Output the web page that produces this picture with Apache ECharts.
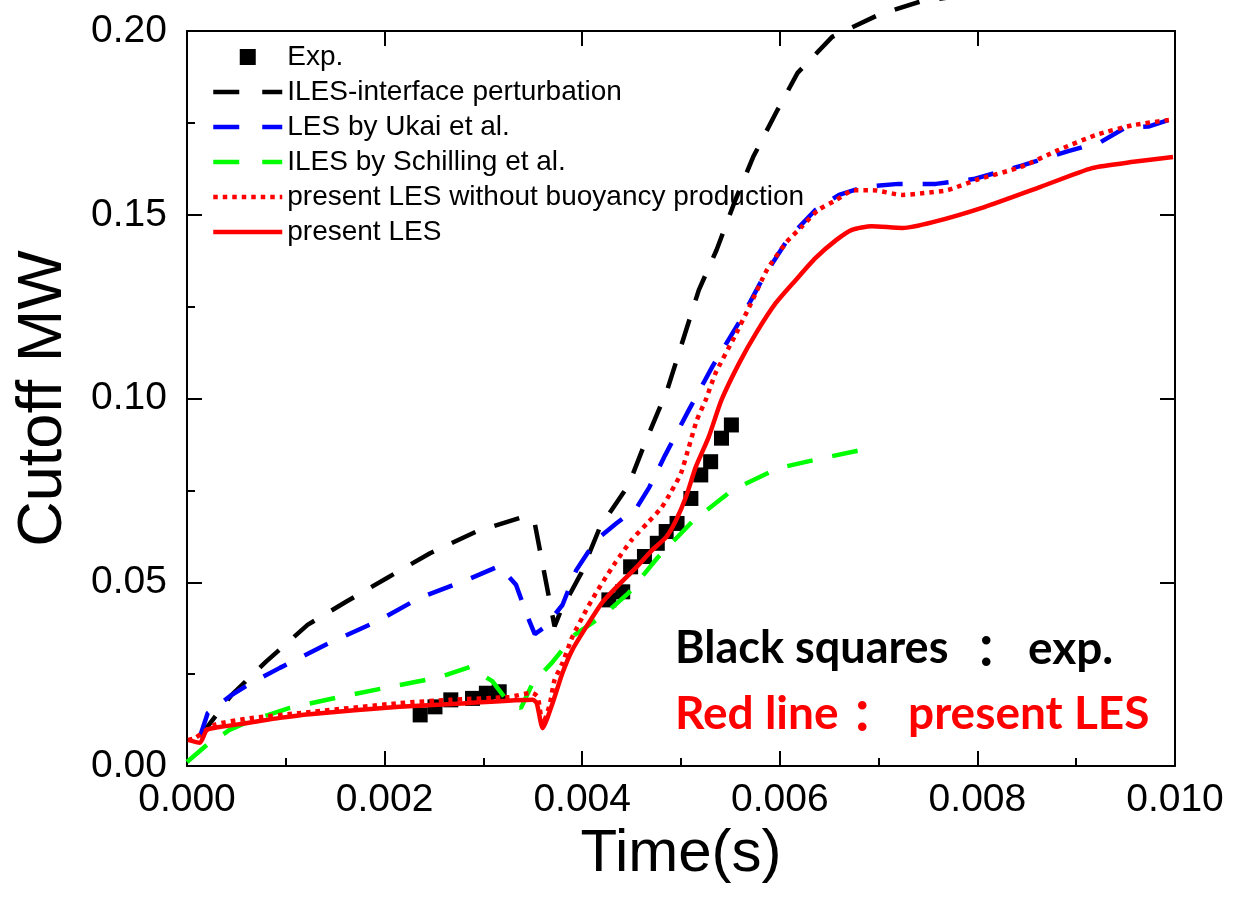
<!DOCTYPE html>
<html>
<head>
<meta charset="utf-8">
<script src="https://cdn.jsdelivr.net/npm/echarts@6/dist/echarts.min.js"></script>
<style>
  html, body { margin: 0; padding: 0; background: #fff; }
  #main { width: 1238px; height: 909px; }
</style>
</head>
<body>
<div id="main"></div>
<script>
// experiment (black squares)
const expData = [
  [0.00236, 0.0139], [0.00251, 0.0161], [0.00267, 0.0180], [0.00289, 0.0184],
  [0.00303, 0.0198], [0.00316, 0.0202],
  [0.00427, 0.0452], [0.00441, 0.0474], [0.00449, 0.0542], [0.00463, 0.0570],
  [0.00476, 0.0606], [0.00485, 0.0638], [0.00496, 0.0660], [0.00510, 0.0728],
  [0.00520, 0.0792], [0.00530, 0.0828], [0.00541, 0.0892], [0.00551, 0.0928]
];

// ILES-interface perturbation
const ilesInterface = [
  [0.00013, 0.0079], [0.00045, 0.0193], [0.00080, 0.0284], [0.00122, 0.0384],
  [0.00161, 0.0447], [0.00202, 0.0511], [0.00246, 0.0579], [0.00293, 0.0638],
  [0.00343, 0.0680], [0.00352, 0.0660], [0.00372, 0.0380], [0.00378, 0.0420],
  [0.00399, 0.0525], [0.00418, 0.0650], [0.00447, 0.0765], [0.00464, 0.0882],
  [0.00486, 0.1023], [0.00518, 0.1295], [0.00536, 0.1404], [0.00555, 0.1540],
  [0.00573, 0.1657], [0.00596, 0.1777], [0.00618, 0.1886], [0.00653, 0.1984],
  [0.00700, 0.2044], [0.00742, 0.2080], [0.00780, 0.2095]
];

// LES by Ukai et al.
const lesUkai = [
  [0.00013, 0.0079], [0.00021, 0.0144], [0.00045, 0.0193], [0.00065, 0.0226],
  [0.00094, 0.0267], [0.00144, 0.0335], [0.00192, 0.0393], [0.00235, 0.0457],
  [0.00283, 0.0506], [0.00316, 0.0544], [0.00333, 0.0493], [0.00344, 0.0411],
  [0.00352, 0.0359], [0.00362, 0.0378], [0.00380, 0.0438], [0.00394, 0.0533],
  [0.00414, 0.0615], [0.00435, 0.0661], [0.00455, 0.0702], [0.00468, 0.0759],
  [0.00484, 0.0846], [0.00508, 0.0969], [0.00532, 0.1088], [0.00559, 0.1208],
  [0.00583, 0.1328], [0.00609, 0.1437], [0.00636, 0.1513], [0.00660, 0.1554],
  [0.00686, 0.1576], [0.00720, 0.1584], [0.00758, 0.1584], [0.00796, 0.1597],
  [0.00844, 0.1633], [0.00892, 0.1673], [0.00925, 0.1698], [0.00949, 0.1736],
  [0.00973, 0.1740], [0.00997, 0.1761]
];

// ILES by Schilling et al.
const ilesSchilling = [
  [0.00000, 0.0011], [0.00020, 0.0057], [0.00043, 0.0098], [0.00066, 0.0125],
  [0.00104, 0.0158], [0.00155, 0.0188], [0.00205, 0.0215], [0.00256, 0.0242],
  [0.00286, 0.0269], [0.00309, 0.0231], [0.00326, 0.0171], [0.00338, 0.0158],
  [0.00350, 0.0226], [0.00369, 0.0280], [0.00392, 0.0356], [0.00422, 0.0411],
  [0.00447, 0.0471], [0.00476, 0.0566], [0.00511, 0.0664], [0.00552, 0.0751],
  [0.00599, 0.0811], [0.00649, 0.0841], [0.00697, 0.0868]
];

// present LES without buoyancy production
const lesNoBuoy = [
  [0.00001, 0.0071], [0.00008, 0.0076], [0.00028, 0.0112], [0.00064, 0.0130],
  [0.00114, 0.0144], [0.00215, 0.0171], [0.00266, 0.0180], [0.00326, 0.0188],
  [0.00349, 0.0199], [0.00355, 0.0188], [0.00360, 0.0114], [0.00367, 0.0166],
  [0.00372, 0.0234], [0.00380, 0.0280], [0.00390, 0.0351], [0.00404, 0.0424],
  [0.00414, 0.0471], [0.00424, 0.0514], [0.00434, 0.0555], [0.00450, 0.0615],
  [0.00466, 0.0661], [0.00480, 0.0702], [0.00490, 0.0746], [0.00500, 0.0797],
  [0.00508, 0.0868], [0.00516, 0.0941], [0.00525, 0.0996], [0.00535, 0.1069],
  [0.00554, 0.1167], [0.00571, 0.1260], [0.00587, 0.1350], [0.00607, 0.1426],
  [0.00622, 0.1467], [0.00639, 0.1513], [0.00657, 0.1540], [0.00675, 0.1567],
  [0.00694, 0.1567], [0.00724, 0.1554], [0.00746, 0.1559], [0.00770, 0.1567],
  [0.00799, 0.1595], [0.00844, 0.1630], [0.00882, 0.1676], [0.00920, 0.1717],
  [0.00958, 0.1744], [0.00995, 0.1758]
];

// present LES
const lesPresent = [
  [0.00001, 0.0071], [0.00013, 0.0063], [0.00020, 0.0098], [0.00033, 0.0106],
  [0.00061, 0.0117], [0.00094, 0.0131], [0.00124, 0.0141], [0.00215, 0.0161],
  [0.00283, 0.0171], [0.00350, 0.0180], [0.00354, 0.0171], [0.00360, 0.0103],
  [0.00370, 0.0171], [0.00380, 0.0253], [0.00390, 0.0316], [0.00404, 0.0378],
  [0.00420, 0.0444], [0.00437, 0.0493], [0.00455, 0.0541], [0.00471, 0.0588],
  [0.00485, 0.0623], [0.00495, 0.0669], [0.00505, 0.0732], [0.00515, 0.0814],
  [0.00528, 0.0895], [0.00541, 0.0996], [0.00559, 0.1097], [0.00576, 0.1178],
  [0.00596, 0.1260], [0.00616, 0.1322], [0.00636, 0.1382], [0.00657, 0.1431],
  [0.00673, 0.1459], [0.00693, 0.1469], [0.00724, 0.1464], [0.00755, 0.1480],
  [0.00807, 0.1521], [0.00864, 0.1576], [0.00916, 0.1627], [0.00958, 0.1644],
  [0.00998, 0.1657]
];

const seriesNames = [
  'Exp.',
  'ILES-interface perturbation',
  'LES by Ukai et al.',
  'ILES by Schilling et al.',
  'present LES without buoyancy production',
  'present LES'
];

const BLACK = '#000000', BLUE = '#0000ff', GREEN = '#00ff00', RED = '#ff0000';
const DASH = [26, 20], DOT = [4.5, 5];
const font = '"Liberation Sans", Arial, sans-serif';
const chart = echarts.init(document.getElementById('main'));

const dashLine = (name, data, color, extra) => Object.assign({
  name: name,
  type: 'line',
  data: data,
  symbol: 'none',
  showSymbol: false,
  lineStyle: { color: color, width: 4.5, type: DASH, cap: 'butt' },
  itemStyle: { color: color }
}, extra || {});

const legendLine = (name, color, type) => ({
  name: name,
  itemStyle: { opacity: 0 },
  lineStyle: { color: color, width: 4.5, type: type, cap: 'butt' }
});

chart.setOption({
  animation: false,
  backgroundColor: '#fff',
  grid: { left: 187, right: 63, top: 31, bottom: 143 },
  legend: {
    orient: 'vertical',
    left: 211,
    top: 43,
    itemWidth: 69,
    itemHeight: 16,
    itemGap: 7,
    padding: 0,
    symbolKeepAspect: true,
    textStyle: { fontFamily: font, fontSize: 28, color: '#000' },
    data: [
      { name: seriesNames[0], icon: 'path://M0,0L10,0L10,10L0,10Z' },
      legendLine(seriesNames[1], BLACK, [26, 23]),
      legendLine(seriesNames[2], BLUE, [26, 23]),
      legendLine(seriesNames[3], GREEN, [26, 23]),
      legendLine(seriesNames[4], RED, DOT),
      legendLine(seriesNames[5], RED, 'solid')
    ]
  },
  xAxis: [{
    type: 'value',
    min: 0, max: 0.01, interval: 0.002,
    name: 'Time(s)',
    nameLocation: 'middle',
    nameGap: 58,
    nameTextStyle: { fontFamily: font, fontSize: 60, color: '#000' },
    axisLine: { onZero: false, lineStyle: { color: '#000', width: 2 } },
    axisTick: { inside: true, length: 15, lineStyle: { color: '#000', width: 2 } },
    minorTick: { show: true, splitNumber: 2, length: 8, lineStyle: { color: '#000', width: 2 } },
    axisLabel: { fontFamily: font, fontSize: 39, color: '#000', margin: 15,
      formatter: v => v.toFixed(3) },
    splitLine: { show: false }
  }, {
    type: 'value', position: 'top',
    min: 0, max: 0.01, interval: 0.002,
    axisLine: { onZero: false, lineStyle: { color: '#000', width: 2 } },
    axisTick: { inside: true, length: 15, lineStyle: { color: '#000', width: 2 } },
    axisLabel: { show: false },
    splitLine: { show: false }
  }],
  yAxis: [{
    type: 'value',
    min: 0, max: 0.2, interval: 0.05,
    name: 'Cutoff MW',
    nameLocation: 'middle',
    nameGap: 112,
    nameTextStyle: { fontFamily: font, fontSize: 63, color: '#000' },
    axisLine: { show: true, onZero: false, lineStyle: { color: '#000', width: 2 } },
    axisTick: { show: true, inside: true, length: 15, lineStyle: { color: '#000', width: 2 } },
    minorTick: { show: true, splitNumber: 2, length: 8, lineStyle: { color: '#000', width: 2 } },
    axisLabel: { fontFamily: font, fontSize: 39, color: '#000', margin: 20,
      formatter: v => v.toFixed(2) },
    splitLine: { show: false }
  }, {
    type: 'value', position: 'right',
    min: 0, max: 0.2, interval: 0.05,
    axisLine: { show: true, onZero: false, lineStyle: { color: '#000', width: 2 } },
    axisTick: { show: true, inside: true, length: 15, lineStyle: { color: '#000', width: 2 } },
    axisLabel: { show: false },
    splitLine: { show: false }
  }],
  series: [
    {
      name: seriesNames[0],
      type: 'scatter',
      data: expData,
      symbol: 'rect',
      symbolSize: 15,
      itemStyle: { color: BLACK, opacity: 1 }
    },
    dashLine(seriesNames[1], ilesInterface, BLACK, { clip: false }),
    dashLine(seriesNames[2], lesUkai, BLUE),
    dashLine(seriesNames[3], ilesSchilling, GREEN),
    {
      name: seriesNames[4],
      type: 'line',
      data: lesNoBuoy,
      symbol: 'none',
      showSymbol: false,
      smooth: 0.2,
      lineStyle: { color: RED, width: 4.5, type: DOT, cap: 'butt' },
      itemStyle: { color: RED }
    },
    {
      name: seriesNames[5],
      type: 'line',
      data: lesPresent,
      symbol: 'none',
      showSymbol: false,
      smooth: 0.2,
      lineStyle: { color: RED, width: 4.5, type: 'solid' },
      itemStyle: { color: RED }
    }
  ],
  graphic: [
    { type: 'text', left: 675, top: 626,
      style: { text: 'Black squares', fill: BLACK, font: 'bold 45px Lato, sans-serif' } },
    { type: 'text', left: 975, top: 626,
      style: { text: '：', fill: BLACK, font: 'bold 45px "Noto Sans CJK SC", sans-serif' } },
    { type: 'text', left: 1028, top: 626,
      style: { text: 'exp.', fill: BLACK, font: 'bold 46px Lato, sans-serif' } },
    { type: 'text', left: 675, top: 691,
      style: { text: 'Red line', fill: RED, font: 'bold 46px Lato, sans-serif' } },
    { type: 'text', left: 851, top: 691,
      style: { text: '：', fill: RED, font: 'bold 45px "Noto Sans CJK SC", sans-serif' } },
    { type: 'text', left: 908, top: 691,
      style: { text: 'present LES', fill: RED, font: 'bold 46px Lato, sans-serif' } }
  ]
});
</script>
</body>
</html>
